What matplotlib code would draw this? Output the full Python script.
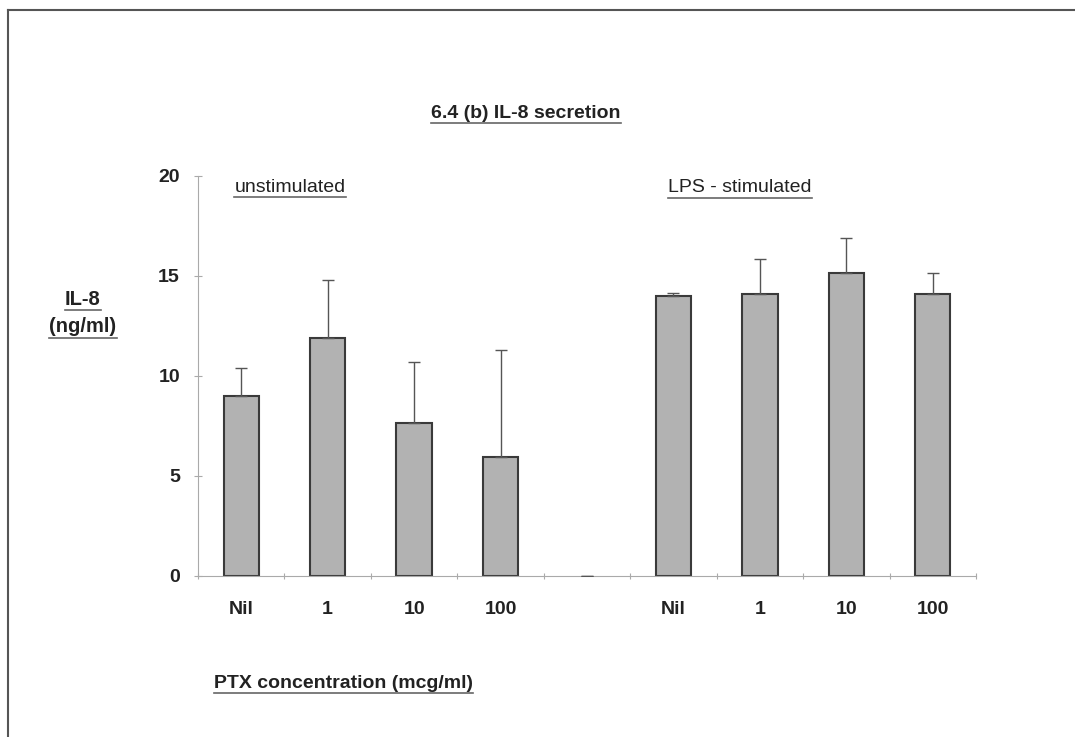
import matplotlib.pyplot as plt
from matplotlib.lines import Line2D

plt.rcParams['font.family'] = ['Liberation Sans', 'DejaVu Sans']
plt.rcParams['hatch.linewidth'] = 0.6
plt.rcParams['text.color'] = '#222222'

categories = ['Nil', '1', '10', '100', '', 'Nil', '1', '10', '100']
il8 = [9.0, 11.9, 7.65, 5.95, 0.0, 14.0, 14.1, 15.13, 14.1]
il8_err = [1.4, 2.9, 3.05, 5.35, 0.0, 0.15, 1.73, 1.77, 1.07]

fig = plt.figure(figsize=(10.75, 7.37), dpi=100)
ax = fig.add_axes([0.1842, 0.2185, 0.7237, 0.5427])

x = list(range(len(categories)))
# stippled fill, then the dark outline on top
ax.bar(x, il8, width=0.41, color='#d8d8d8', edgecolor='#b2b2b2', linewidth=0,
       hatch='+' * 16, zorder=2)
ax.bar(x, il8, width=0.41, fill=False, edgecolor='#3a3a3a',
       linewidth=[1.5 if v > 0 else 0 for v in il8], zorder=2.5)
ax.errorbar(x, il8, yerr=[[0] * len(il8), il8_err], fmt='none',
            ecolor='#555555', elinewidth=1, capsize=4, capthick=1, zorder=3)

ax.set_xlim(-0.5, len(categories) - 0.5)
ax.set_ylim(0, 20)
ax.set_yticks([0, 5, 10, 15, 20])
ax.set_xticks([i - 0.5 for i in range(len(categories) + 1)])
ax.set_xticklabels([])
ax.set_xticks(x, minor=True)
ax.set_xticklabels(categories, minor=True, fontweight='bold', fontsize=14, color='#222222')
ax.tick_params(axis='x', which='minor', length=0, pad=18)
ax.tick_params(axis='x', which='major', direction='inout', length=5,
               color='#aaaaaa', width=0.8)
ax.tick_params(axis='y', direction='inout', length=6, color='#aaaaaa',
               width=0.8, pad=10, labelsize=14, labelcolor='#222222')
for lbl in ax.get_yticklabels():
    lbl.set_fontweight('bold')
for s in ['top', 'right']:
    ax.spines[s].set_visible(False)
for s in ['left', 'bottom']:
    ax.spines[s].set_color('#aaaaaa')
    ax.spines[s].set_linewidth(0.8)

W, H = 1075, 737
texts = [
    fig.text(526 / W, 1 - 113 / H, '6.4 (b) IL-8 secretion', ha='center', va='center',
             fontsize=14, fontweight='bold'),
    fig.text(290 / W, 1 - 187 / H, 'unstimulated', ha='center', va='center', fontsize=14),
    fig.text(740 / W, 1 - 188 / H, 'LPS - stimulated', ha='center', va='center', fontsize=14),
    fig.text(83 / W, 1 - 300 / H, 'IL-8', ha='center', va='center', fontsize=14.5,
             fontweight='bold'),
    fig.text(83 / W, 1 - 327 / H, '(ng/ml)', ha='center', va='center', fontsize=14.5,
             fontweight='bold'),
    fig.text(343 / W, 1 - 683 / H, 'PTX concentration (mcg/ml)', ha='center', va='center',
             fontsize=14, fontweight='bold'),
]

# underline the labels
fig.canvas.draw()
r = fig.canvas.get_renderer()
for t in texts:
    bb = t.get_window_extent(r)
    yl = (bb.y0 - 1) / H
    fig.add_artist(Line2D([bb.x0 / W, bb.x1 / W], [yl, yl], color='#666666', lw=1.2))

# page frame (top and left edges)
fig.add_artist(Line2D([8 / W, 1], [1 - 10 / H, 1 - 10 / H], color='#555555', lw=1.5))
fig.add_artist(Line2D([8 / W, 8 / W], [0, 1 - 10 / H], color='#555555', lw=1.5))

fig.savefig('out.png', dpi=100)
